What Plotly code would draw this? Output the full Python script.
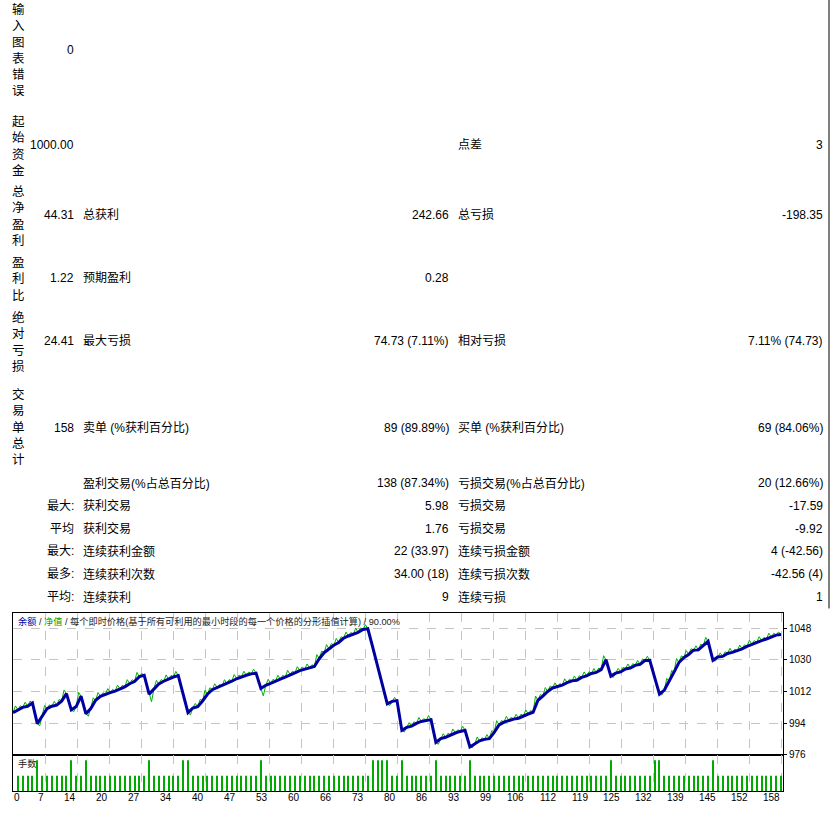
import plotly.graph_objects as go

W, H = 832, 817          # page size (reference pixels)
FIG_H = 811              # figure height actually drawn

# ---------------- data ----------------
balance = [
    1000.0, 1001.6, 1003.0, 1003.6, 1005.5, 993.7, 997.6, 1002.2, 1003.6, 1004.2,
    1006.5, 1010.8, 1001.5, 1003.4, 1009.3, 999.3, 1002.3, 1007.0, 1009.2, 1010.4,
    1011.3, 1012.2, 1013.4, 1014.6, 1016.4, 1017.6, 1020.4, 1021.2, 1010.5, 1013.6,
    1016.2, 1017.8, 1019.1, 1020.2, 1021.0, 1010.8, 1000.0, 1002.6, 1003.4, 1006.6,
    1010.4, 1013.0, 1014.2, 1015.0, 1016.4, 1017.8, 1019.2, 1020.4, 1021.2, 1022.0,
    1022.4, 1013.7, 1015.5, 1016.6, 1018.0, 1019.0, 1020.2, 1021.6, 1022.6, 1023.8,
    1024.8, 1025.4, 1026.2, 1030.6, 1034.0, 1036.2, 1038.2, 1039.8, 1042.2, 1043.5,
    1044.4, 1045.6, 1047.2, 1047.6, 1037.2, 1026.8, 1016.0, 1005.0, 1006.4, 1006.8,
    989.9, 991.6, 992.3, 993.9, 995.0, 995.6, 996.0, 983.1, 985.2, 986.0,
    987.4, 988.4, 989.3, 990.0, 980.5, 982.2, 984.0, 984.8, 985.2, 988.8,
    993.0, 994.6, 995.6, 996.3, 996.8, 998.2, 999.2, 1000.2, 1007.0, 1009.4,
    1012.0, 1014.0, 1014.6, 1015.6, 1017.0, 1018.0, 1018.4, 1020.0, 1020.8, 1022.2,
    1022.8, 1024.4, 1030.0, 1020.7, 1022.4, 1023.1, 1024.8, 1025.3, 1026.8, 1027.4,
    1029.6, 1029.7, 1020.0, 1010.5, 1012.8, 1017.6, 1023.0, 1028.4, 1031.2, 1033.0,
    1035.4, 1035.6, 1037.8, 1040.5, 1029.7, 1031.6, 1031.9, 1033.6, 1034.2, 1035.0,
    1036.2, 1037.6, 1038.8, 1039.8, 1040.9, 1041.8, 1042.8, 1044.0, 1044.31,
]

# equity excursion during each trade, relative to the balance after that trade
equity_offsets = [
    2.2, 0.9, 2.3, 1.0, 5.9, -5.1, 1.8, 0.8, 2.2, 1.0,
    2.0, 4.6, -2.9, 2.2, 5.0, -4.3, 1.4, 2.2, 0.9, 2.3,
    1.0, 2.2, 0.9, 2.3, 1.1, 2.4, 1.0, 5.3, -7.4, 2.1,
    1.0, 2.3, 0.9, 2.4, 5.1, 5.4, -3.9, 1.8, 0.9, 2.3,
    1.1, 2.2, 0.9, 2.3, 1.0, 2.4, 0.9, 2.3, 1.1, 2.2,
    4.3, -6.0, 2.3, 0.9, 2.2, 1.0, 2.4, 0.9, 2.3, 1.1,
    2.2, 1.0, 2.3, 0.9, 2.4, 1.0, 2.3, 0.9, 2.2, 1.1,
    2.4, 0.9, 2.3, 5.2, 5.2, 5.4, 5.5, -2.4, 1.8, 8.4,
    -2.6, 2.0, 0.9, 2.2, 1.0, 2.3, 6.4, -3.2, 2.0, 0.9,
    2.3, 1.0, 2.2, 4.7, -2.2, 2.2, 0.9, 2.3, 1.0, 2.4,
    0.9, 2.3, 1.1, 2.2, 0.9, 2.3, 1.0, 2.4, 0.9, 2.2,
    1.1, 2.3, 0.9, 2.2, 1.0, 2.4, 0.9, 2.3, 1.1, 2.2,
    0.9, 2.3, 4.6, -2.4, 2.0, 0.9, 2.3, 1.0, 2.2, 0.9,
    2.3, 4.8, 4.7, -2.8, 1.8, 0.9, 2.3, 1.0, 2.2, 0.9,
    2.3, 1.1, 2.2, 5.4, -2.4, 2.0, 0.9, 2.3, 1.0, 2.2,
    0.9, 2.3, 1.1, 2.2, 0.9, 2.3, 1.0, 1.5,
]

# lots per trade (trades 1..158)
volumes = [
    1, 1, 1, 1, 2, 1, 1, 1, 1, 1,
    1, 2, 1, 1, 2, 1, 1, 1, 1, 1,
    1, 1, 1, 1, 1, 1, 1, 2, 1, 1,
    1, 1, 1, 1, 2, 2, 1, 1, 1, 1,
    1, 1, 1, 1, 1, 1, 1, 1, 1, 1,
    2, 1, 1, 1, 1, 1, 1, 1, 1, 1,
    1, 1, 1, 1, 1, 1, 1, 1, 1, 1,
    1, 1, 1, 2, 2, 2, 2, 1, 1, 2,
    1, 1, 1, 1, 1, 1, 2, 1, 1, 1,
    1, 1, 1, 2, 1, 1, 1, 1, 1, 1,
    1, 1, 1, 1, 1, 1, 1, 1, 1, 1,
    1, 1, 1, 1, 1, 1, 1, 1, 1, 1,
    1, 1, 2, 1, 1, 1, 1, 1, 1, 1,
    1, 2, 2, 1, 1, 1, 1, 1, 1, 1,
    1, 1, 1, 2, 1, 1, 1, 1, 1, 1,
    1, 1, 1, 1, 1, 1, 1, 1,
]

x_tick_labels = [7, 14, 20, 27, 34, 40, 47, 53, 60, 66, 73, 80,
                 86, 93, 99, 106, 112, 119, 125, 132, 139, 145, 152, 158]
y_ticks = [976, 994, 1012, 1030, 1048]

# report table (top part)
vert_labels = ["输入图表错误", "起始资金", "总净盈利", "盈利比", "绝对亏损", "交易单总计"]
vert_values = ["0", "1000.00", "44.31", "1.22", "24.41", "158"]
vert_col2_labels = ["", "", "总获利", "预期盈利", "最大亏损", "卖单 (%获利百分比)"]
vert_col2_values = ["", "", "242.66", "0.28", "74.73 (7.11%)", "89 (89.89%)"]
vert_col3_labels = ["", "点差", "总亏损", "", "相对亏损", "买单 (%获利百分比)"]
vert_col3_values = ["", "3", "-198.35", "", "7.11% (74.73)", "69 (84.06%)"]

low_prefix = ["", "最大:", "平均", "最大:", "最多:", "平均:"]
low_col2_labels = ["盈利交易(%占总百分比)", "获利交易", "获利交易", "连续获利金额", "连续获利次数", "连续获利"]
low_col2_values = ["138 (87.34%)", "5.98", "1.76", "22 (33.97)", "34.00 (18)", "9"]
low_col3_labels = ["亏损交易(%占总百分比)", "亏损交易", "亏损交易", "连续亏损金额", "连续亏损次数", "连续亏损"]
low_col3_values = ["20 (12.66%)", "-17.59", "-9.92", "4 (-42.56)", "-42.56 (4)", "1"]

# ---------------- layout helpers ----------------
FONT = "Liberation Sans, Noto Sans CJK SC, sans-serif"
vert_row_y = [50, 146.5, 216.5, 280, 343.5, 431]
vert_label_y = [50, 148, 218, 282, 345, 430]
low_row_y = [487, 509.5, 532.5, 555.5, 578.5, 601.5]


def py(y):
    """reference pixel row -> paper fraction"""
    return 1 - y / FIG_H


annotations = []


def ann(xp, yp, text, xanchor="left", size=12, color="#000000", yanchor="middle"):
    annotations.append(dict(
        x=xp / W, y=py(yp), xref="paper", yref="paper", text=text,
        showarrow=False, xanchor=xanchor, yanchor=yanchor, align="center",
        font=dict(family=FONT, size=size, color=color), borderpad=0,
    ))


for i in range(len(vert_labels)):
    ann(18, vert_label_y[i], "<br>".join(list(vert_labels[i])), "center", 12.5)
    ann(75, vert_row_y[i], vert_values[i], "right")
    if vert_col2_labels[i]:
        ann(82, vert_row_y[i], vert_col2_labels[i], "left")
    if vert_col2_values[i]:
        ann(450, vert_row_y[i], vert_col2_values[i], "right")
    if vert_col3_labels[i]:
        ann(457, vert_row_y[i], vert_col3_labels[i], "left")
    if vert_col3_values[i]:
        ann(824, vert_row_y[i], vert_col3_values[i], "right")

for i in range(len(low_prefix)):
    if low_prefix[i]:
        ann(75, low_row_y[i], low_prefix[i], "right")
    ann(82, low_row_y[i], low_col2_labels[i], "left")
    ann(450, low_row_y[i], low_col2_values[i], "right")
    ann(457, low_row_y[i], low_col3_labels[i], "left")
    ann(824, low_row_y[i], low_col3_values[i], "right")

# chart caption & volume label
ann(17, 626, '<span style="color:#0000A0">余额</span> / <span style="color:#00A000">净值</span> / '
    '每个即时价格(基于所有可利用的最小时段的每一个价格的分形插值计算) / 90.00%',
    "left", 9.2, "#222222")
ann(17, 769, "手数", "left", 9.2, "#222222")

# chart geometry
X0, X1 = 13, 783
px_per_trade = 768 / 158
grid_step = 32 / px_per_trade
x_range = [0, (X1 - X0) / px_per_trade]

# x tick labels (right-aligned to the grid lines)
annotations.append(dict(x=0, y=py(803), xref="x", yref="paper", text="0", showarrow=False,
                        xanchor="left", yanchor="middle", borderpad=0,
                        font=dict(family=FONT, size=10, color="#000")))
for k, lab in enumerate(x_tick_labels):
    annotations.append(dict(x=(k + 1) * grid_step, y=py(803), xref="x", yref="paper",
                            text=str(lab), showarrow=False, xanchor="right", yanchor="middle",
                            borderpad=0, font=dict(family=FONT, size=10, color="#000")))

# ---------------- traces ----------------
eq_x, eq_y = [0], [balance[0]]
for i, off in enumerate(equity_offsets):
    eq_x += [i + 0.5, i + 1]
    eq_y += [balance[i + 1] + off, balance[i + 1]]

fig = go.Figure()
fig.add_trace(go.Scatter(x=eq_x, y=eq_y, mode="lines", line=dict(color="#00B000", width=1),
                         xaxis="x", yaxis="y", hoverinfo="skip"))
fig.add_trace(go.Scatter(x=list(range(len(balance))), y=balance, mode="lines",
                         line=dict(color="#0000A0", width=3), xaxis="x", yaxis="y"))
fig.add_trace(go.Bar(x=list(range(1, len(volumes) + 1)), y=volumes, width=0.21,
                     marker=dict(color="#00AA00", line=dict(width=0)), xaxis="x2", yaxis="y2"))

grid = dict(showgrid=True, gridcolor="#C4C4C4", griddash="dash", gridwidth=1)
fig.update_layout(
    width=W, height=FIG_H, margin=dict(l=0, r=0, t=0, b=0), showlegend=False,
    paper_bgcolor="white", plot_bgcolor="white",
    xaxis=dict(domain=[X0 / W, X1 / W], range=x_range, anchor="y", tickmode="linear",
               tick0=0, dtick=grid_step, showticklabels=False, ticks="", zeroline=False,
               showline=True, mirror=True, linecolor="black", linewidth=1, **grid),
    yaxis=dict(domain=[py(760.5), py(618)], range=[976, 1056.3], anchor="x",
               side="right", tickmode="array", tickvals=y_ticks, ticks="outside", ticklen=3,
               tickcolor="black", tickfont=dict(family=FONT, size=10, color="#000"),
               zeroline=False, showline=True, mirror=True, linecolor="black", linewidth=1, **grid),
    xaxis2=dict(domain=[X0 / W, X1 / W], range=x_range, anchor="y2", tickmode="linear",
                tick0=0, dtick=grid_step, showticklabels=False, ticks="", zeroline=False,
                showline=True, mirror=True, linecolor="black", linewidth=1, **grid),
    yaxis2=dict(domain=[py(797), py(761)], range=[0, 2.32], anchor="x2",
                showticklabels=False, showgrid=False, zeroline=False, ticks="",
                showline=True, mirror=True, linecolor="black", linewidth=1),
    annotations=annotations,
    shapes=[dict(type="line", xref="paper", yref="paper", x0=829 / W, x1=829 / W,
                 y0=py(613), y1=1, line=dict(color="#000000", width=1))],
)

fig.write_html(
    "out.html",
    config={"displayModeBar": False},
    post_script=("document.documentElement.style.margin='0';"
                 "document.body.style.margin='0';"
                 "document.body.style.overflow='hidden';"
                 "document.documentElement.style.overflow='hidden';"),
)
